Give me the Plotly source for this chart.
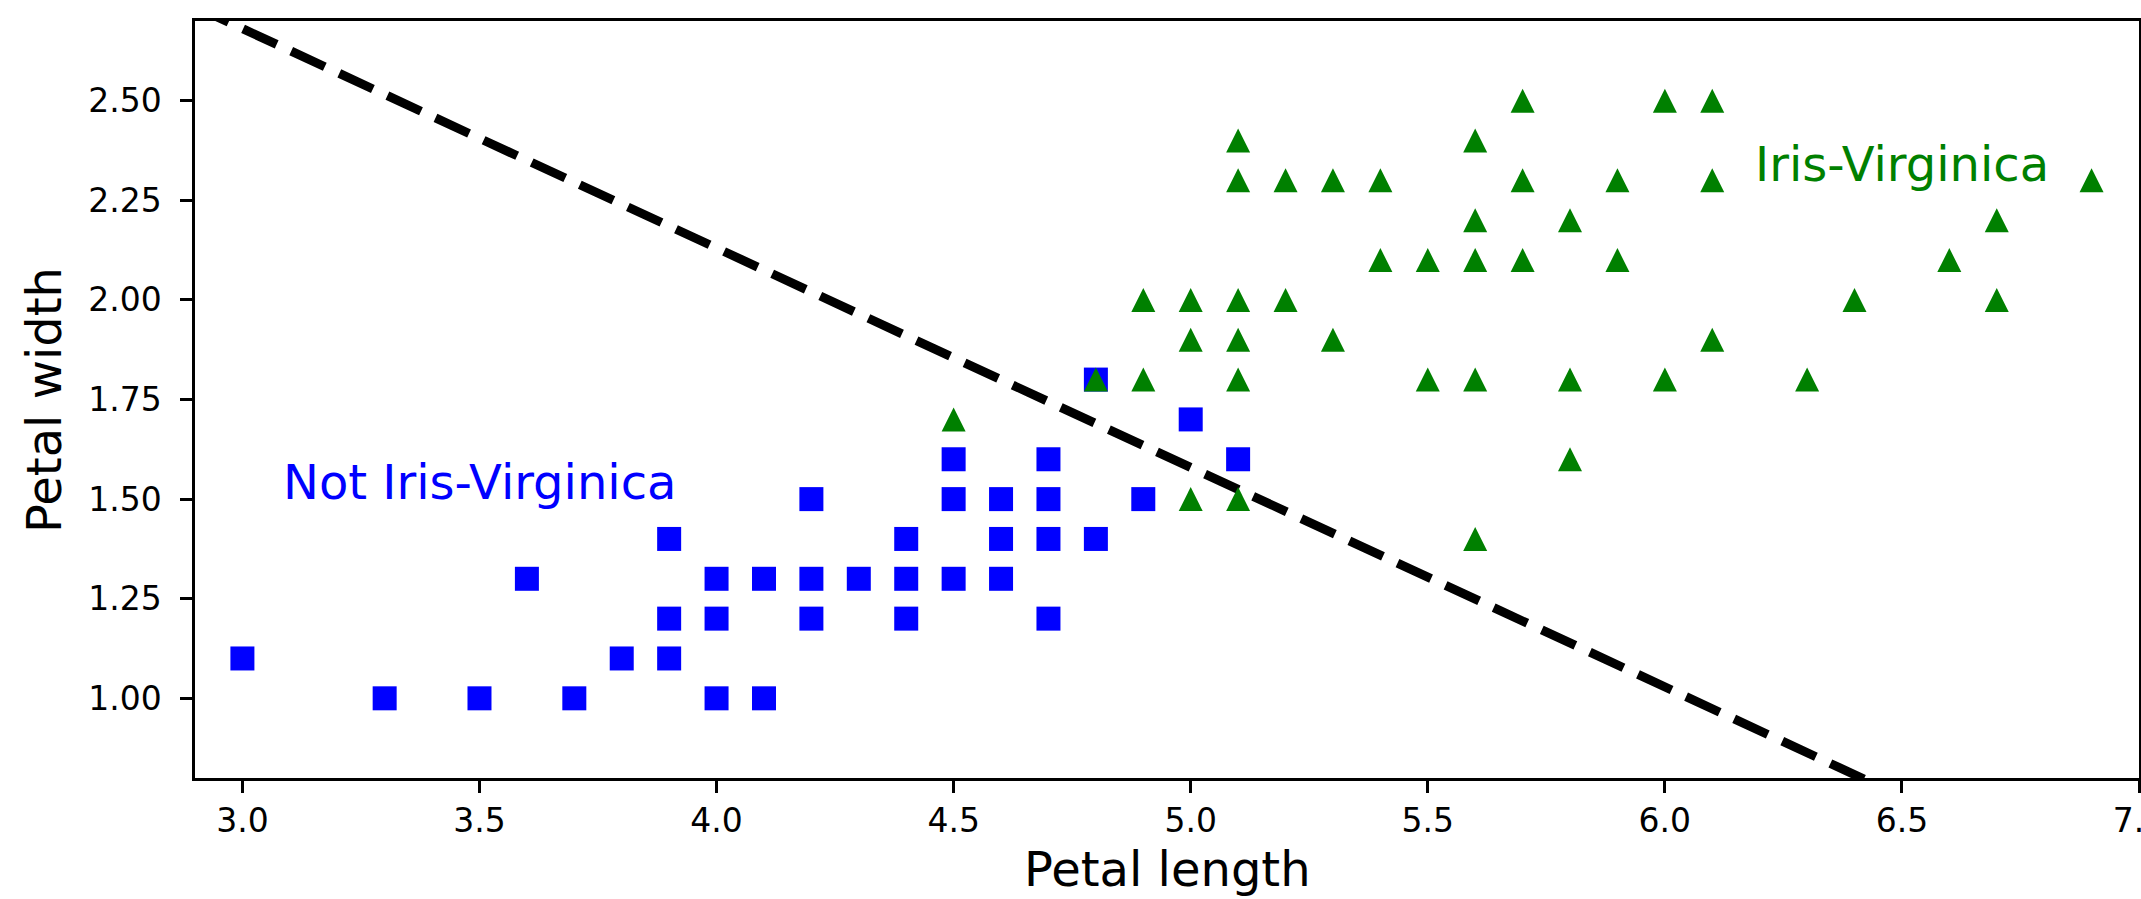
import plotly.graph_objects as go

# ---------------- data ----------------
not_virginica_length = [3.0, 3.3, 3.5, 3.6, 3.7, 3.8, 3.9, 3.9, 3.9, 4.0, 4.0, 4.0,
                        4.1, 4.1, 4.2, 4.2, 4.2, 4.3, 4.4, 4.4, 4.4, 4.5, 4.5, 4.5,
                        4.6, 4.6, 4.6, 4.7, 4.7, 4.7, 4.7, 4.8, 4.8, 4.9, 5.0, 5.1]
not_virginica_width = [1.1, 1.0, 1.0, 1.3, 1.0, 1.1, 1.4, 1.2, 1.1, 1.3, 1.2, 1.0,
                       1.3, 1.0, 1.5, 1.3, 1.2, 1.3, 1.4, 1.3, 1.2, 1.6, 1.5, 1.3,
                       1.5, 1.4, 1.3, 1.6, 1.5, 1.4, 1.2, 1.8, 1.4, 1.5, 1.7, 1.6]

virginica_length = [5.7, 6.0, 6.1,
                    5.1, 5.6,
                    5.1, 5.2, 5.3, 5.4, 5.7, 5.9, 6.1, 6.9,
                    5.6, 5.8, 6.7,
                    5.4, 5.5, 5.6, 5.7, 5.9, 6.6,
                    4.9, 5.0, 5.1, 5.2, 6.4, 6.7,
                    5.0, 5.1, 5.3, 6.1,
                    4.8, 4.9, 5.1, 5.5, 5.6, 5.8, 6.0, 6.3,
                    4.5,
                    5.8,
                    5.0, 5.1,
                    5.6]
virginica_width = [2.5, 2.5, 2.5,
                   2.4, 2.4,
                   2.3, 2.3, 2.3, 2.3, 2.3, 2.3, 2.3, 2.3,
                   2.2, 2.2, 2.2,
                   2.1, 2.1, 2.1, 2.1, 2.1, 2.1,
                   2.0, 2.0, 2.0, 2.0, 2.0, 2.0,
                   1.9, 1.9, 1.9, 1.9,
                   1.8, 1.8, 1.8, 1.8, 1.8, 1.8, 1.8, 1.8,
                   1.7,
                   1.6,
                   1.5, 1.5,
                   1.4]

boundary_x = [2.9, 7.0]
boundary_y = [2.736, 0.478]

x_range = [2.9, 7.0]
y_range = [0.8, 2.7]

label_not = "Not Iris-Virginica"
label_vir = "Iris-Virginica"
x_title = "Petal length"
y_title = "Petal width"

# ---------------- layout constants ----------------
W, H = 2141, 899
ML, MR, MT, MB = 195, 2, 21, 121
plot_w = W - ML - MR
plot_h = H - MT - MB
FONT = "DejaVu Sans"
TRI_SIZE = 24
# arrow-up symbol has its apex at the point; shift its axis so the triangle is centred
tri_shift = (TRI_SIZE / 2) / (plot_h / (y_range[1] - y_range[0]))

fig = go.Figure()
fig.add_trace(go.Scatter(
    x=not_virginica_length, y=not_virginica_width, mode="markers",
    marker=dict(symbol="square", size=24, color="#0000ff", line=dict(width=0)),
    showlegend=False, hoverinfo="skip"))
fig.add_trace(go.Scatter(
    x=virginica_length, y=virginica_width, mode="markers", yaxis="y2",
    marker=dict(symbol="arrow-up", size=TRI_SIZE, color="#008000", line=dict(width=0)),
    showlegend=False, hoverinfo="skip"))
fig.add_trace(go.Scatter(
    x=boundary_x, y=boundary_y, mode="lines",
    line=dict(color="black", width=9, dash="37px,16px"),
    showlegend=False, hoverinfo="skip"))

axis_common = dict(showgrid=False, zeroline=False, showline=True, linecolor="black",
                   linewidth=2.5, mirror=True, ticks="outside", ticklen=12, tickwidth=2.5,
                   tickcolor="black", automargin=False,
                   tickfont=dict(family=FONT, size=33, color="black"))

fig.update_layout(
    width=W, height=H,
    margin=dict(l=ML, r=MR, t=MT, b=MB, pad=0, autoexpand=False),
    paper_bgcolor="white", plot_bgcolor="white",
    font=dict(family=FONT, color="black"),
    xaxis=dict(range=x_range, tickmode="linear", tick0=3.0, dtick=0.5, tickformat=".1f",
               ticklabeloverflow="allow", **axis_common),
    yaxis=dict(range=y_range, tickmode="linear", tick0=1.0, dtick=0.25, tickformat=".2f",
               ticklabelstandoff=12, **axis_common),
    yaxis2=dict(range=[y_range[0] - tri_shift, y_range[1] - tri_shift], overlaying="y",
                visible=False, showgrid=False, zeroline=False),
    annotations=[
        dict(text=label_not, x=3.5, y=1.5, xref="x", yref="y", xanchor="center",
             yanchor="bottom", yshift=-13.3, showarrow=False,
             font=dict(family=FONT, size=48, color="#0000ff")),
        dict(text=label_vir, x=6.5, y=2.3, xref="x", yref="y", xanchor="center",
             yanchor="bottom", yshift=-13.3, showarrow=False,
             font=dict(family=FONT, size=48, color="#008000")),
        dict(text=x_title, x=0.5, y=(H - MB - 838.5) / plot_h, xref="paper", yref="paper",
             xanchor="center", yanchor="top", showarrow=False,
             font=dict(family=FONT, size=48, color="black")),
        dict(text=y_title, x=(43.4 - ML) / plot_w, y=0.5, xref="paper", yref="paper",
             xanchor="center", yanchor="middle", textangle=-90, showarrow=False,
             font=dict(family=FONT, size=48, color="black")),
    ],
)

fig.write_html("out.html")
